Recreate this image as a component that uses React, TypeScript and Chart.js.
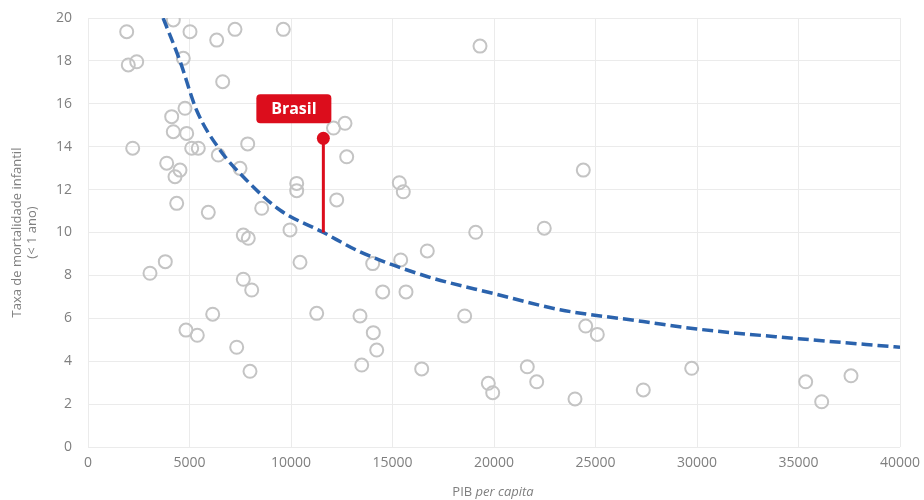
import React, { useEffect, useRef } from "react";
import { Chart, registerables } from "chart.js";

Chart.register(...registerables);

// Countries: GDP per capita (x) vs infant mortality rate (y)
const countryGdp: number[] = [
  1906, 4202, 5025, 6340, 7241, 9620, 1985, 2399, 4694, 6635,
  4778, 4123, 4202, 4862, 2202, 5108, 5433, 6419, 7867, 3877,
  4532, 4286, 7488, 10281, 10281, 4369, 5926, 8557, 9951, 7650,
  7896, 12660, 12093, 12744, 12251, 3054, 3808, 10443, 7650, 8064,
  11266, 13399, 14054, 14222, 13483, 14025, 14517, 6143, 4827, 5384,
  7325, 7980, 19310, 15335, 15532, 24399, 22477, 19099, 16714, 15404,
  15665, 18556, 16438, 24517, 25089, 21640, 22103, 19719, 19936, 23990,
  27354, 29738, 35354, 36142, 37586,
];
const countryMortality: number[] = [
  19.36, 19.91, 19.36, 18.97, 19.47, 19.47, 17.81, 17.96, 18.12, 17.03,
  15.79, 15.4, 14.7, 14.62, 13.93, 13.93, 13.93, 13.61, 14.13, 13.23,
  12.91, 12.6, 12.99, 12.29, 11.95, 11.36, 10.94, 11.13, 10.12, 9.88,
  9.73, 15.09, 14.87, 13.53, 11.52, 8.1, 8.64, 8.61, 7.82, 7.32,
  6.23, 6.11, 5.33, 4.52, 3.82, 8.55, 7.23, 6.19, 5.45, 5.21,
  4.65, 3.53, 18.69, 12.32, 11.9, 12.91, 10.2, 10.01, 9.14, 8.72,
  7.23, 6.11, 3.64, 5.64, 5.25, 3.74, 3.04, 2.97, 2.53, 2.24,
  2.66, 3.67, 3.04, 2.11, 3.32,
];

// Trend line
const trendGdp: number[] = [3700, 4530, 5350, 6500, 7800, 9450, 11600, 13400, 16700, 20000, 23250, 27350, 30000, 35000, 40000];
const trendMortality: number[] = [20, 18.0, 15.7, 13.85, 12.45, 11.05, 10.0, 9.1, 7.95, 7.15, 6.4, 5.85, 5.5, 5.05, 4.65];

// Brasil
const brasilLabel = "Brasil";
const brasilGdp = 11594;
const brasilMortality = 14.39;
const brasilTrend = 10.0;

const xTicks: number[] = [0, 5000, 10000, 15000, 20000, 25000, 30000, 35000, 40000];
const yTicks: number[] = [0, 2, 4, 6, 8, 10, 12, 14, 16, 18, 20];

const yTitleLines = ["Taxa de mortalidade infantil", "(< 1 ano)"];
const xTitleNormal = "PIB ";
const xTitleItalic = "per capita";

const FONT = "'Open Sans', 'Noto Sans', sans-serif";
const GRAY_TEXT = "#7f7f7f";
const RED = "#dc0d1c";

export default function App() {
  const ref = useRef<HTMLCanvasElement | null>(null);

  useEffect(() => {
    if (!ref.current) return;

    const overlay = {
      id: "overlay",
      afterDraw(chart: any) {
        const ctx = chart.ctx as CanvasRenderingContext2D;
        const xs = chart.scales.x;
        const ys = chart.scales.y;
        // Brasil label
        const px = xs.getPixelForValue(brasilGdp);
        const py = ys.getPixelForValue(brasilMortality);
        const bw = 75, bh = 29;
        const bx = px + 8 - bw;
        const by = py - 15 - bh;
        ctx.save();
        ctx.fillStyle = RED;
        ctx.beginPath();
        (ctx as any).roundRect(bx, by, bw, bh, 4);
        ctx.fill();
        ctx.fillStyle = "#ffffff";
        ctx.font = `bold 16px ${FONT}`;
        ctx.textAlign = "center";
        ctx.textBaseline = "middle";
        ctx.fillText(brasilLabel, bx + bw / 2, by + bh / 2 + 1);
        ctx.restore();

        // Y title
        ctx.save();
        ctx.fillStyle = GRAY_TEXT;
        ctx.font = `13px ${FONT}`;
        ctx.textAlign = "center";
        ctx.textBaseline = "middle";
        const cy = (chart.chartArea.top + chart.chartArea.bottom) / 2;
        ctx.translate(17, cy);
        ctx.rotate(-Math.PI / 2);
        ctx.fillText(yTitleLines[0], 0, 0);
        ctx.fillText(yTitleLines[1], 0, 15);
        ctx.restore();

        // X title
        ctx.save();
        ctx.fillStyle = GRAY_TEXT;
        ctx.textBaseline = "middle";
        ctx.textAlign = "left";
        ctx.font = `13px ${FONT}`;
        const w1 = ctx.measureText(xTitleNormal).width;
        ctx.font = `italic 13px ${FONT}`;
        const w2 = ctx.measureText(xTitleItalic).width;
        const startX = 493 - (w1 + w2) / 2;
        ctx.font = `13px ${FONT}`;
        ctx.fillText(xTitleNormal, startX, 492);
        ctx.font = `italic 13px ${FONT}`;
        ctx.fillText(xTitleItalic, startX + w1, 492);
        ctx.restore();
      },
    };

    const chart = new Chart(ref.current, {
      type: "scatter",
      data: {
        datasets: [
          {
            label: "Brasil",
            data: [{ x: brasilGdp, y: brasilMortality }],
            pointRadius: 6.5,
            pointBackgroundColor: RED,
            pointBorderColor: RED,
            borderWidth: 0,
          } as any,
          {
            label: "Brasil line",
            data: [
              { x: brasilGdp, y: brasilTrend },
              { x: brasilGdp, y: brasilMortality },
            ],
            showLine: true,
            borderColor: RED,
            borderWidth: 3,
            pointRadius: 0,
          } as any,
          {
            label: "Tendência",
            data: trendGdp.map((x, i) => ({ x, y: trendMortality[i] })),
            showLine: true,
            borderColor: "#2b63ad",
            borderWidth: 3.5,
            borderDash: [11, 5],
            pointRadius: 0,
            cubicInterpolationMode: "monotone",
          } as any,
          {
            label: "Países",
            data: countryGdp.map((x, i) => ({ x, y: countryMortality[i] })),
            pointRadius: 6.5,
            pointBorderWidth: 2,
            pointBorderColor: "#c4c4c4",
            pointBackgroundColor: "rgba(0,0,0,0)",
          } as any,
        ],
      },
      options: {
        animation: false,
        responsive: false,
        layout: { padding: { left: 0, right: 24, top: 18, bottom: 0 } },
        plugins: { legend: { display: false }, tooltip: { enabled: false }, title: { display: false } },
        scales: {
          x: {
            type: "linear",
            min: 0,
            max: 40000,
            afterBuildTicks: (s: any) => {
              s.ticks = xTicks.map((v) => ({ value: v }));
            },
            afterFit: (s: any) => {
              s.height = 53;
              s.paddingLeft = 0;
              s.paddingRight = 0;
            },
            ticks: {
              color: GRAY_TEXT,
              font: { family: FONT, size: 14 },
              padding: 8,
              maxRotation: 0,
              autoSkip: false,
              callback: (v: any) => String(v),
            },
            grid: { color: "#ebebeb", lineWidth: 1, drawTicks: false },
            border: { display: false },
          },
          y: {
            type: "linear",
            min: 0,
            max: 20,
            afterBuildTicks: (s: any) => {
              s.ticks = yTicks.map((v) => ({ value: v }));
            },
            afterFit: (s: any) => {
              s.width = 88;
              s.paddingTop = 0;
              s.paddingBottom = 0;
            },
            ticks: {
              color: GRAY_TEXT,
              font: { family: FONT, size: 14 },
              padding: 16,
              autoSkip: false,
              callback: (v: any) => String(v),
            },
            grid: { color: "#ebebeb", lineWidth: 1, drawTicks: false },
            border: { display: false },
          },
        },
      } as any,
      plugins: [overlay],
    });
    return () => chart.destroy();
  }, []);

  return (
    <div style={{ position: "absolute", left: 0, top: 0, width: 924, height: 500, background: "#ffffff" }}>
      <canvas ref={ref} width={924} height={500} style={{ width: 924, height: 500, display: "block" }} />
    </div>
  );
}
